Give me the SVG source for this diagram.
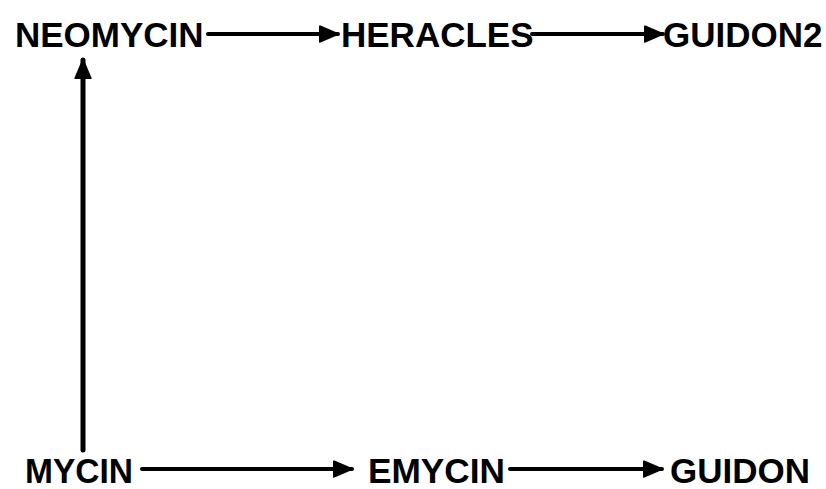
<svg xmlns="http://www.w3.org/2000/svg" width="826" height="489" viewBox="0 0 826 489">
<style>
.lbl{font-family:"Liberation Sans",Arial,sans-serif;font-weight:bold;font-size:35px;fill:#000}
.edge{stroke:#000;stroke-width:4;fill:none;stroke-linecap:round}
</style>
<defs>
<marker id="ah" viewBox="0 0 20 18" refX="19" refY="9" markerWidth="20" markerHeight="18" markerUnits="userSpaceOnUse" orient="auto">
<path d="M0,1 Q0,0 1.5,0.6 L19,8 Q20,9 19,10 L1.5,17.4 Q0,18 0,17 Z" fill="#000"/>
</marker>
</defs>
<rect width="826" height="489" fill="#fff"/>
<g id="connectors">
<line class="edge" x1="208" y1="34" x2="338" y2="34" marker-end="url(#ah)"/>
<line class="edge" x1="532" y1="34" x2="663" y2="34" marker-end="url(#ah)"/>
<line class="edge" x1="142" y1="469" x2="352" y2="469" marker-end="url(#ah)"/>
<line class="edge" x1="510" y1="469" x2="662" y2="469" marker-end="url(#ah)"/>
<line class="edge" style="stroke-width:5" x1="83" y1="450" x2="83" y2="60" marker-end="url(#ah)"/>
</g>
<g id="neomycin"><text class="lbl" x="15" y="47">NEOMYCIN</text></g>
<g id="heracles"><text class="lbl" x="341" y="47">HERACLES</text></g>
<g id="guidon2"><text class="lbl" x="663" y="47">GUIDON2</text></g>
<g id="mycin"><text class="lbl" x="25" y="483" textLength="108" lengthAdjust="spacingAndGlyphs">MYCIN</text></g>
<g id="emycin"><text class="lbl" x="368" y="483" textLength="137" lengthAdjust="spacingAndGlyphs">EMYCIN</text></g>
<g id="guidon"><text class="lbl" x="670" y="483">GUIDON</text></g>
</svg>
